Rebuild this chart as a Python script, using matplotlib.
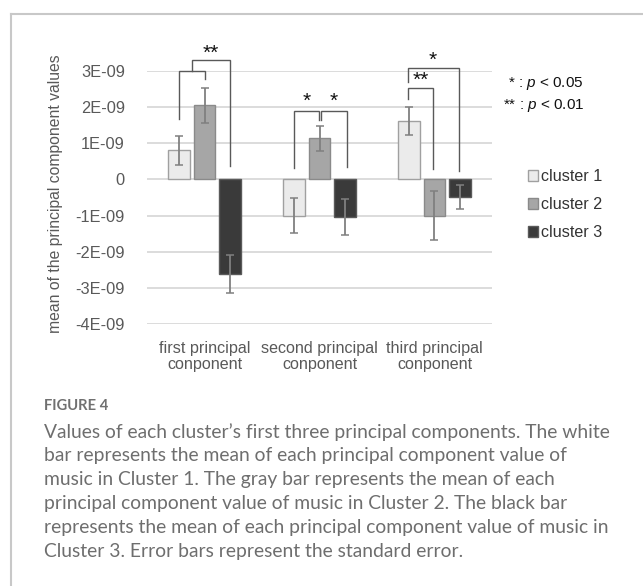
import matplotlib
matplotlib.use("Agg")
import matplotlib.pyplot as plt
from matplotlib.lines import Line2D
import numpy as np

plt.rcParams['font.family'] = ['Liberation Sans', 'DejaVu Sans']
plt.rcParams['mathtext.fontset'] = 'custom'
plt.rcParams['mathtext.rm'] = 'Liberation Sans'
plt.rcParams['mathtext.it'] = 'Liberation Sans:italic'

# ---- data ----
categories = ["first principal\nconponent", "second principal\nconponent", "third principal\nconponent"]
series_names = ["cluster 1", "cluster 2", "cluster 3"]
cluster1 = [0.81e-9, -1.00e-9, 1.62e-9]
cluster2 = [2.05e-9, 1.14e-9, -1.00e-9]
cluster3 = [-2.62e-9, -1.04e-9, -0.49e-9]
err1 = [0.40e-9, 0.49e-9, 0.39e-9]
err2 = [0.49e-9, 0.34e-9, 0.67e-9]
err3 = [0.52e-9, 0.50e-9, 0.33e-9]
yticks = [-4e-9, -3e-9, -2e-9, -1e-9, 0, 1e-9, 2e-9, 3e-9]
ytick_labels = ["-4E-09", "-3E-09", "-2E-09", "-1E-09", "0", "1E-09", "2E-09", "3E-09"]
y_label = "mean of the principal component values"
sig_legend = [r"* : $p$ < 0.05", r"** : $p$ < 0.01"]
fig_title = "FIGURE 4"
caption_lines = [
    "Values of each cluster\u2019s first three principal components. The white",
    "bar represents the mean of each principal component value of",
    "music in Cluster 1. The gray bar represents the mean of each",
    "principal component value of music in Cluster 2. The black bar",
    "represents the mean of each principal component value of music in",
    "Cluster 3. Error bars represent the standard error.",
]
# significance brackets: (x1, x2, top, left_end, right_end, label, label_x, label_y) in data units
brackets = [
    (-0.222, 0.0, 3.00e-9, 1.67e-9, 2.78e-9, "", 0, 0),
    (-0.111, 0.222, 3.30e-9, 3.00e-9, 0.36e-9, "**", 0.055, 3.50e-9),
    (0.778, 0.992, 1.90e-9, 0.31e-9, 1.65e-9, "*", 0.889, 2.17e-9),
    (1.012, 1.236, 1.90e-9, 1.65e-9, 0.34e-9, "*", 1.12, 2.17e-9),
    (1.772, 1.990, 2.52e-9, 2.22e-9, 0.28e-9, "**", 1.88, 2.73e-9),
    (1.772, 2.216, 3.07e-9, 2.70e-9, 0.23e-9, "*", 1.984, 3.30e-9),
]

W, H = 643, 586
fig = plt.figure(figsize=(W / 100, H / 100), dpi=100)
fig.patch.set_facecolor("white")

# frame
fig.add_artist(Line2D([11 / W, 11 / W], [0, 1 - 14 / H], color="#c8c8c8", lw=1.5, transform=fig.transFigure))
fig.add_artist(Line2D([11 / W, 1], [1 - 14 / H, 1 - 14 / H], color="#c8c8c8", lw=1.5, transform=fig.transFigure))

ax_left, ax_right, ax_top, ax_bot = 147, 492, 71, 324
ax = fig.add_axes([ax_left / W, 1 - ax_bot / H, (ax_right - ax_left) / W, (ax_bot - ax_top) / H])
ax.set_xlim(-0.5, 2.5)
ax.set_ylim(-4e-9, 3e-9)
for s in ax.spines.values():
    s.set_visible(False)
ax.set_facecolor("none")

for yv in yticks:
    ax.axhline(yv, color="#d9d9d9", lw=1.3, zorder=0)

x = np.arange(len(categories))
off = 0.222
bw = 0.185
fills = ["#ebebeb", "#a6a6a6", "#3a3a3a"]
edges = ["#a0a0a0", "#8a8a8a", "#5a5a5a"]
handles = []
for i, (vals, errs) in enumerate(zip([cluster1, cluster2, cluster3], [err1, err2, err3])):
    b = ax.bar(x + (i - 1) * off, vals, bw, color=fills[i], edgecolor=edges[i], lw=1.0, zorder=2,
               label=series_names[i])
    ax.errorbar(x + (i - 1) * off, vals, yerr=errs, fmt="none", ecolor="#808080", elinewidth=1.3,
                capsize=2.6, capthick=1.1, zorder=3)
    handles.append(b)

ax.set_yticks(yticks)
ax.set_yticklabels(ytick_labels)
ax.set_xticks(x)
ax.set_xticklabels(categories, linespacing=1.12)
ax.tick_params(axis="y", length=0, pad=16, labelsize=11.8, labelcolor="#595959")
ax.tick_params(axis="x", length=0, pad=12, labelsize=11.6, labelcolor="#595959")
ax.set_ylabel(y_label, fontsize=11.3, color="#595959")
ax.yaxis.set_label_coords((63 - ax_left) / (ax_right - ax_left), (ax_bot - 193.5) / (ax_bot - ax_top))

# brackets
for (x1, x2, top, le, re, lab, lx, ly) in brackets:
    ax.plot([x1, x1, x2, x2], [le, top, top, re], color="#595959", lw=1.0, clip_on=False, zorder=4,
            solid_joinstyle="miter")
    if lab:
        ax.text(lx, ly, lab, ha="center", va="center", fontsize=15, color="#111111", clip_on=False)

# legend
leg = fig.legend(handles=handles, loc="upper left", bbox_to_anchor=(527.5 / W, 1 - 169 / H),
                 frameon=False, fontsize=11.6, handlelength=0.66, handleheight=0.66,
                 handletextpad=0.2, labelspacing=0.82, borderpad=0, borderaxespad=0)
for t in leg.get_texts():
    t.set_color("#333333")

# significance note
fig.text(584 / W, 1 - 84 / H, sig_legend[0], ha="right", va="center", fontsize=11, color="#111111")
fig.text(584 / W, 1 - 106 / H, sig_legend[1], ha="right", va="center", fontsize=11, color="#111111")

# caption
fig.text(44 / W, 1 - 406 / H, fig_title, ha="left", va="center", fontsize=10.6, color="#707070",
         family=["Lato", "DejaVu Sans"], fontweight="bold")
for k, line in enumerate(caption_lines):
    fig.text(44 / W, 1 - (432 + k * 23.8) / H, line, ha="left", va="center", fontsize=13.9,
             color="#6e6e6e", family=["Lato", "DejaVu Sans"])

fig.savefig("out.png", dpi=100)
